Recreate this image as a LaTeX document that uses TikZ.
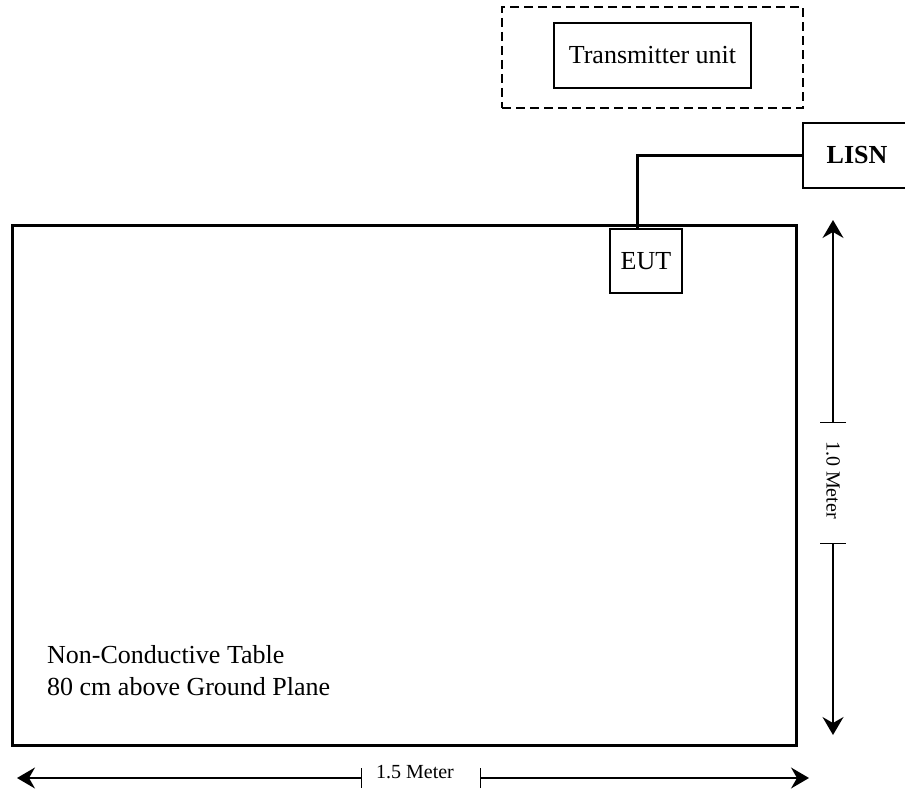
\documentclass[tikz,border=0pt]{standalone}
\usepackage{fontspec}
\setmainfont{Liberation Serif}
\usepackage{tikz}
\usetikzlibrary{arrows.meta, positioning}

\tikzset{
  unitbox/.style={draw, line width=1.5pt, fill=white, inner sep=0pt,
    font=\fontsize{26}{30}\selectfont},
  tablebox/.style={draw, line width=3pt, inner sep=0pt},
  cable/.style={line width=3pt},
  dimline/.style={line width=1.4pt},
  dimtip/.tip={Stealth[length=18pt, width=21pt, inset=6pt]},
  dimlabel/.style={inner sep=0pt, font=\fontsize{20}{24}\selectfont}
}

\begin{document}
\begin{tikzpicture}[x=1pt, y=-1pt]
        \useasboundingbox (0,0) rectangle (905,794);

        % table, EUT and LISN
        \node[tablebox, minimum width=784pt, minimum height=519pt] (table) at (404,485.5) {};
        \node[unitbox, minimum width=72pt, minimum height=64pt] (eut) at (646,261) {EUT};
        \node[unitbox, minimum width=108pt, minimum height=65pt, font=\fontsize{26}{30}\selectfont\bfseries] (lisn) at (857,155.5) {LISN};
        \draw[cable] ([xshift=-9pt]eut.north) |- (lisn.west);

        \node[anchor=north west, align=left, inner sep=0pt, font=\fontsize{26}{32}\selectfont] (tabletext) at (47,645) {Non-Conductive Table\\80 cm above Ground Plane};

        % transmitter
        \node[draw, dash pattern=on 9pt off 5pt, line width=1.4pt, minimum width=301pt, minimum height=101pt] (txarea) at (652.5,57.5) {};
        \node[unitbox, minimum width=197pt, minimum height=65pt] (tx) at (652.5,55.5) {Transmitter unit};

        % 1.0 Meter
        \coordinate (vtop) at (833,220);
        \coordinate (vbot) at (833,735);
        \coordinate (vtick1) at (833,423);
        \coordinate (vtick2) at (833,543);
        \node[dimlabel, rotate=-90] (vlabel) at (833,480) {1.0 Meter};
        \draw[dimline, {Bar[width=26pt]}-dimtip] (vtick1) -- (vtop);
        \draw[dimline, {Bar[width=26pt]}-dimtip] (vtick2) -- (vbot);

        % 1.5 Meter
        \coordinate (hleft) at (17,778);
        \coordinate (hright) at (809,778);
        \coordinate (htick1) at (362,778);
        \coordinate (htick2) at (480,778);
        \node[dimlabel] (hlabel) at (415,772) {1.5 Meter};
        \draw[dimline, {Bar[width=20pt]}-dimtip] (htick1) -- (hleft);
        \draw[dimline, {Bar[width=20pt]}-dimtip] (htick2) -- (hright);
    \end{tikzpicture}
\end{document}
